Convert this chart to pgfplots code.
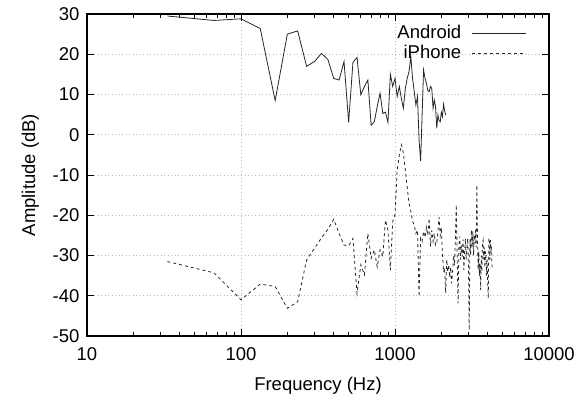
\documentclass[border=0pt]{standalone}
\usepackage{fontspec}
\setmainfont{Liberation Sans}
\usepackage{pgfplots}
\usepackage{pgfplotstable}
\pgfplotsset{compat=1.18}

\pgfplotstableread{
f db
33.3 29.5
66.7 28.4
100 28.8
133.3 26.4
166.7 8.5
200 25.0
233.3 25.8
266.7 17.0
300 18.2
333.3 20.2
366.7 18.7
400 14.0
433.3 13.6
466.7 18.2
500 3.1
533.3 18.0
566.7 19.2
600 9.9
633.3 12.0
666.7 13.6
700 2.4
733.3 3.2
766.7 7.0
800 10.3
833.3 5.3
866.7 5.6
900 3.1
933.3 15.0
966.7 12.0
1000 14.0
1033 9.5
1067 12.0
1100 9.0
1133 6.6
1167 11.5
1200 14.0
1233 15.7
1267 19.4
1300 14.0
1333 10.7
1367 7.4
1400 9.5
1433 -1.3
1467 -6.5
1500 5.0
1533 16.1
1567 14.0
1600 12.8
1633 11.0
1667 10.7
1700 12.0
1733 11.5
1767 6.6
1800 8.6
1833 7.0
1867 1.6
1900 4.9
1933 3.5
1967 3.2
2000 5.6
2033 4.5
2067 7.6
2100 6.0
2133 4.9
}\android

\pgfplotstableread{
f db
33.3 -31.5
66.7 -34.3
100 -41.0
133.3 -37.1
166.7 -37.7
200 -43.1
233.3 -41.5
266.7 -31.1
300 -28.2
333.3 -25.6
366.7 -23.5
400 -21.0
433.3 -24.5
466.7 -27.4
500 -27.6
533.3 -25.8
566.7 -39.4
600 -32.3
633.3 -34.8
666.7 -24.5
700 -30.7
733.3 -28.6
766.7 -32.8
800 -28.6
833.3 -30.3
866.7 -21.2
900 -23.7
933.3 -33.6
966.7 -21.5
1000 -19.8
1033 -8.8
1067 -5.0
1100 -2.5
1133 -4.5
1167 -8.8
1200 -13.0
1233 -17.0
1267 -19.0
1300 -21.5
1333 -22.4
1367 -24.5
1400 -23.7
1433 -40.2
1467 -25.7
1500 -26.5
1533 -24.0
1567 -25.5
1600 -23.0
1633 -25.0
1667 -20.7
1700 -27.8
1733 -23.7
1767 -26.5
1800 -24.5
1833 -27.4
1867 -27.0
1900 -24.0
1933 -20.5
1967 -25.0
2000 -23.0
2033 -29.5
2067 -34.0
2100 -33.0
2133 -39.4
2167 -31.0
2200 -34.0
2233 -32.3
2267 -35.5
2300 -33.0
2333 -36.9
2367 -34.0
2400 -30.0
2433 -32.5
2467 -26.0
2500 -17.4
2533 -30.0
2567 -41.9
2600 -28.0
2633 -25.3
2667 -31.0
2700 -27.5
2733 -30.3
2767 -26.0
2800 -33.6
2833 -29.0
2867 -25.8
2900 -31.0
2933 -28.0
2967 -25.7
3000 -33.0
3033 -48.5
3067 -26.0
3100 -30.0
3133 -23.7
3167 -28.0
3200 -24.0
3233 -30.0
3267 -25.0
3300 -27.0
3333 -23.7
3367 -28.0
3400 -12.5
3433 -26.0
3467 -33.6
3500 -29.0
3533 -35.0
3567 -32.0
3600 -38.6
3633 -30.0
3667 -34.0
3700 -27.0
3733 -26.2
3767 -31.0
3800 -28.0
3833 -33.0
3867 -29.0
3900 -30.3
3933 -35.0
3967 -31.0
4000 -37.0
4033 -40.6
4067 -26.0
4100 -25.7
4133 -31.0
4167 -26.2
4200 -29.0
4233 -27.8
4267 -33.6
}\iphone

\begin{document}
\begin{tikzpicture}
\path[use as bounding box] (-87pt,-58pt) rectangle (499pt,336pt);
\begin{axis}[
  at={(0pt,0pt)}, anchor=south west,
  scale only axis, width=462pt, height=322pt,
  xmode=log, xmin=10, xmax=10000, ymin=-50, ymax=30,
  xtick={10,100,1000,10000}, xticklabels={10,100,1000,10000},
  ytick={-50,-40,-30,-20,-10,0,10,20,30},
  yticklabels={-50,-40,-30,-20,-10,0,10,20,30},
  font=\fontsize{18.5}{22}\selectfont,
  tick label style={font=\fontsize{18.5}{22}\selectfont},
  yticklabel style={xshift=-4pt},
  xticklabel style={yshift=-8pt},
  xlabel={Frequency (Hz)}, ylabel={Amplitude (dB)},
  xlabel shift=10pt, ylabel shift=7pt,
  label style={font=\fontsize{18.5}{22}\selectfont},
  tick align=inside, major tick length=7pt, minor tick length=4pt,
  axis line style={line width=1.2pt},
  tick style={black, line width=0.8pt},
  grid=major, major grid style={gray!55, dash pattern=on 1pt off 2.5pt, line width=0.6pt},
  legend style={draw=none, fill=none, inner sep=0pt, at={(axis description cs:0.952,0.972)}, anchor=north east,
    font=\fontsize{18.5}{22}\selectfont, row sep=-1pt,
    nodes={inner sep=1pt, text height=14pt, text depth=5pt}},
  legend cell align=right, legend plot pos=right,
  legend image code/.code={\path[draw=none,fill=none] (0pt,-2pt) rectangle (64pt,2pt); \draw[#1] (10pt,0pt) -- (64pt,0pt);},
]
\addplot[black!85, line width=0.8pt] table[x=f,y=db] {\android};
\addlegendentry{Android}
\addplot[black!85, line width=0.8pt, dash pattern=on 3pt off 3pt] table[x=f,y=db] {\iphone};
\addlegendentry{iPhone}
\end{axis}
\end{tikzpicture}
\end{document}
